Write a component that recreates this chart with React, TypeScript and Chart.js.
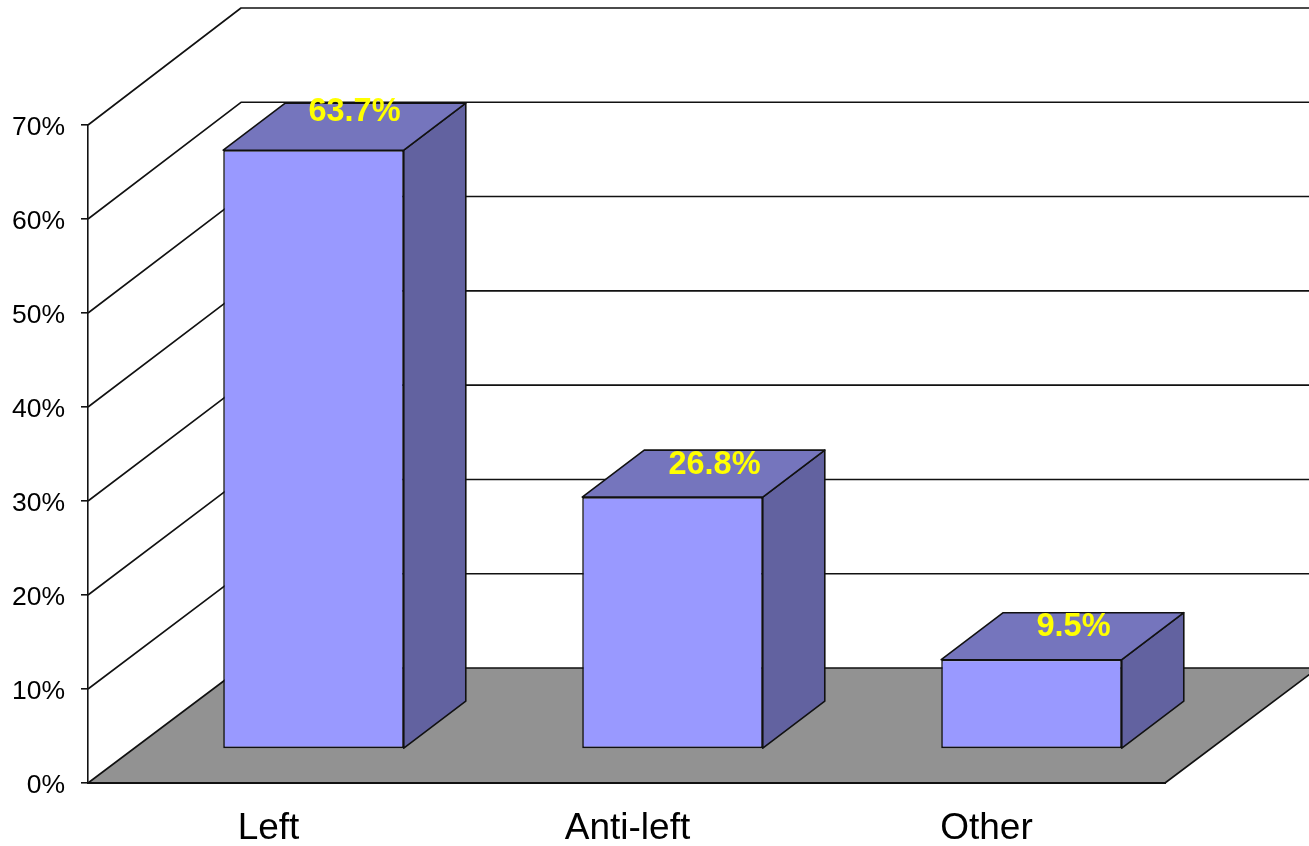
import React, { useEffect, useRef } from "react";
import { Chart, registerables } from "chart.js";

Chart.register(...registerables);

const categories = ["Left", "Anti-left", "Other"];
const shares = [63.7, 26.8, 9.5];
const yTicksStep = 10;
const yMax = 70;

const FONT = "'Liberation Sans', Arial, sans-serif";
const WALL = { dx: 153, dyFloor: -115, dyTop: -117 };
const BAR_SHIFT = { dx: 46, dy: -34 };
const BAR_DEPTH = { dx: 62, dy: -47 };
const LABEL_SHIFT = [
  { dx: 41, dy: -38.5 },
  { dx: 42, dy: -32.5 },
  { dx: 42, dy: -32.5 },
];
const LINE = "#111";
const LW = 1.6;
const FRONT = "#9999FF";
const TOP = "#7575BD";
const SIDE = "#6262A0";
const FLOOR = "#929292";

function poly(ctx: CanvasRenderingContext2D, pts: number[][], fill: string | null, lw = LW) {
  ctx.beginPath();
  pts.forEach((p, i) => (i ? ctx.lineTo(p[0], p[1]) : ctx.moveTo(p[0], p[1])));
  if (fill) {
    ctx.closePath();
    ctx.fillStyle = fill;
    ctx.fill();
  }
  ctx.strokeStyle = LINE;
  ctx.lineWidth = lw;
  ctx.lineJoin = "round";
  ctx.stroke();
}

const box3d = {
  id: "box3d",
  beforeDraw(chart: any) {
    const { ctx, scales, width } = chart;
    const y = scales.y;
    const x = scales.x;
    const y0 = y.getPixelForValue(0);
    const wallDy = (v: number) => WALL.dyFloor + (WALL.dyTop - WALL.dyFloor) * (v / yMax);
    ctx.save();
    for (let v = yTicksStep; v <= yMax; v += yTicksStep) {
      const py = y.getPixelForValue(v);
      poly(ctx, [
        [x.left, py],
        [x.left + WALL.dx, py + wallDy(v)],
        [width, py + wallDy(v)],
      ], null);
    }
    poly(ctx, [
      [x.left, y0],
      [x.right, y0],
      [x.right + WALL.dx, y0 + WALL.dyFloor],
      [x.left + WALL.dx, y0 + WALL.dyFloor],
    ], FLOOR);
    ctx.restore();
  },
  beforeDatasetDraw(chart: any, args: any) {
    const { ctx } = chart;
    const meta = chart.getDatasetMeta(args.index);
    ctx.save();
    meta.data.forEach((bar: any) => {
      const half = bar.width / 2;
      const l = bar.x - half + BAR_SHIFT.dx;
      const r = bar.x + half + BAR_SHIFT.dx;
      const t = bar.y + BAR_SHIFT.dy;
      const b = bar.base + BAR_SHIFT.dy;
      const d = BAR_DEPTH;
      poly(ctx, [[r, t], [r + d.dx, t + d.dy], [r + d.dx, b + d.dy], [r, b]], SIDE);
      poly(ctx, [[l, t], [l + d.dx, t + d.dy], [r + d.dx, t + d.dy], [r, t]], TOP);
    });
    ctx.restore();
    ctx.save();
    ctx.translate(BAR_SHIFT.dx, BAR_SHIFT.dy);
  },
  afterDatasetDraw(chart: any) {
    chart.ctx.restore();
  },
  afterDatasetsDraw(chart: any) {
    const { ctx } = chart;
    const meta = chart.getDatasetMeta(0);
    ctx.save();
    ctx.fillStyle = "#FFFF00";
    ctx.font = `bold 32.5px ${FONT}`;
    ctx.textAlign = "center";
    ctx.textBaseline = "middle";
    meta.data.forEach((bar: any, i: number) => {
      const s = LABEL_SHIFT[i];
      ctx.fillText(
        `${shares[i].toFixed(1)}%`,
        bar.x + BAR_SHIFT.dx + s.dx,
        bar.y + BAR_SHIFT.dy + s.dy
      );
    });
    ctx.restore();
  },
};

export default function App() {
  const ref = useRef<HTMLCanvasElement>(null);
  useEffect(() => {
    const chart = new Chart(ref.current as HTMLCanvasElement, {
      type: "bar",
      data: {
        labels: categories,
        datasets: [
          {
            data: shares,
            backgroundColor: FRONT,
            borderColor: LINE,
            borderWidth: LW,
            borderSkipped: false,
            barPercentage: 0.503,
            categoryPercentage: 1,
            clip: false,
          } as any,
        ],
      },
      options: {
        responsive: false,
        animation: false,
        layout: { padding: { top: 125, right: 144, left: 0, bottom: 0 } },
        plugins: { legend: { display: false }, tooltip: { enabled: false }, title: { display: false } },
        scales: {
          x: {
            grid: { display: false },
            border: { display: true, color: LINE, width: 2 },
            afterFit: (s: any) => {
              s.height = 63;
            },
            ticks: {
              color: "#000",
              font: { family: FONT, size: 37 },
              padding: 16,
              labelOffset: 1,
              maxRotation: 0,
            },
          },
          y: {
            min: 0,
            max: yMax,
            grid: { drawOnChartArea: false, drawTicks: true, tickLength: 7, color: LINE, lineWidth: LW },
            border: { display: true, color: LINE, width: LW },
            afterFit: (s: any) => {
              s.width = 88;
            },
            ticks: {
              stepSize: yTicksStep,
              color: "#000",
              font: { family: FONT, size: 26.5 },
              padding: 16,
              labelOffset: 3,
              callback: (v: any) => `${v}%`,
            },
          },
        },
      },
      plugins: [box3d],
    } as any);
    return () => chart.destroy();
  }, []);
  return (
    <div style={{ position: "absolute", left: 0, top: 0, width: 1309, height: 846, overflow: "hidden", background: "#fff" }}>
      <canvas ref={ref} width={1309} height={846} style={{ display: "block" }} />
    </div>
  );
}
